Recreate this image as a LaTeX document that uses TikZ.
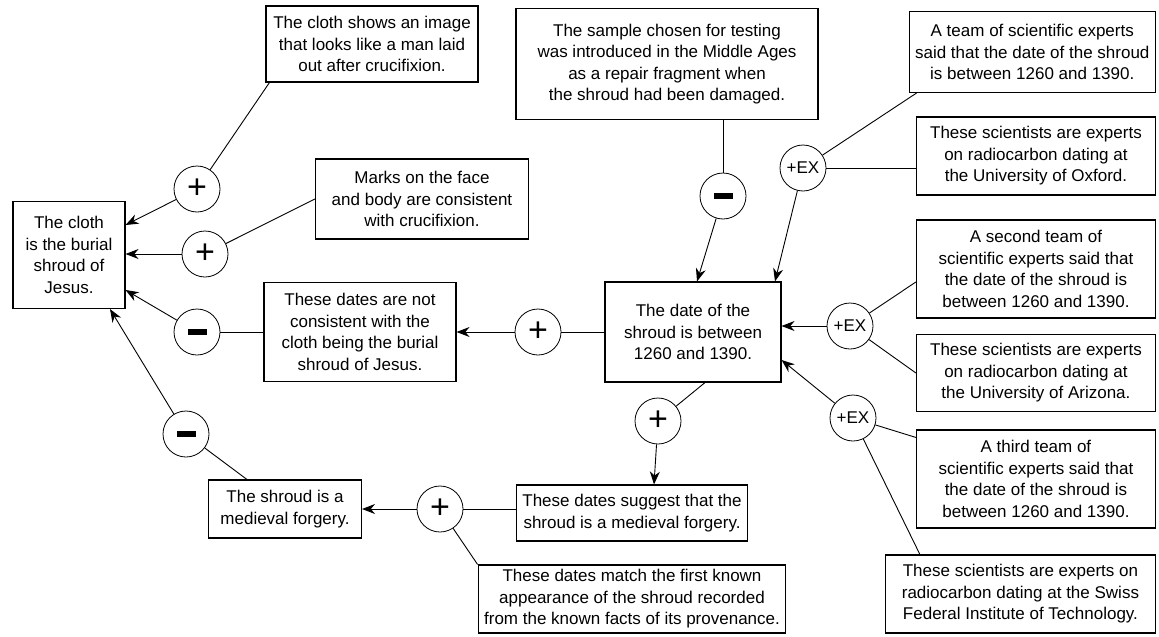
\documentclass[tikz,border=0pt]{standalone}
\usepackage{fontspec}
\setmainfont{Liberation Sans}
\usetikzlibrary{arrows.meta}

\begin{document}
\begin{tikzpicture}[
  x=1pt, y=-1pt,
  font=\fontsize{17}{21.5}\selectfont,
  line width=0.9pt,
  box/.style={rectangle, draw, line width=1.1pt, align=center,
              inner xsep=6pt, inner ysep=4pt},
  sign/.style={circle, draw, line width=0.8pt, minimum size=46pt, inner sep=0pt},
  plus/.style={sign, font=\fontsize{34}{34}\selectfont},
  arr/.style={-{Stealth[length=13pt, width=10pt]}},
]
\useasboundingbox (0,0) rectangle (1159,637);

% claim on the left
\node[box, minimum width=112pt, minimum height=107pt] (root) at (69,255) {The cloth\\is the burial\\shroud of\\Jesus.};
\node[box, minimum width=212pt, minimum height=76pt] (image) at (372,44) {The cloth shows an image\\that looks like a man laid\\out after crucifixion.};
\node[box, minimum width=213pt, minimum height=80pt] (marks) at (422,199) {Marks on the face\\and body are consistent\\with crucifixion.};
\node[box, minimum width=192pt, minimum height=99pt] (notcons) at (360,332) {These dates are not\\consistent with the\\cloth being the burial\\shroud of Jesus.};
\node[box, minimum width=153pt, minimum height=58pt] (forgery) at (285,509) {The shroud is a\\medieval forgery.};

\node[plus] (p1) at (197,189) {+};
\node[plus] (p2) at (205,254) {+};
\node[sign] (m1) at (197,332) {\rule[-3pt]{19pt}{6pt}};
\node[sign] (m2) at (186,434) {\rule[-3pt]{19pt}{6pt}};

\draw[arr] (p1) -- ([yshift=30pt]root.east);
\draw (p1) -- ([xshift=4pt]image.south west);
\draw[arr] (p2) -- (root.east |- p2);
\draw (p2) -- (marks.west);
\draw[arr] (m1) -- ([yshift=-35pt]root.east);
\draw (m1) -- (notcons.west |- m1);
\draw[arr] (m2) -- ([xshift=41pt]root.south);
\draw (m2) -- ([xshift=39pt]forgery.north west);

% middle column
\node[box, minimum width=302pt, minimum height=111pt] (sample) at (667,64) {The sample chosen for testing\\was introduced in the Middle Ages\\as a repair fragment when\\the shroud had been damaged.};
\node[box, minimum width=176pt, minimum height=100pt] (date) at (693,332) {The date of the\\shroud is between\\1260 and 1390.};
\node[box, minimum width=230pt, minimum height=56pt] (suggest) at (632,513) {These dates suggest that the\\shroud is a medieval forgery.};
\node[box, minimum width=300pt, minimum height=68pt] (match) at (632,599) {These dates match the first known\\appearance of the shroud recorded\\from the known facts of its provenance.};

\node[plus] (p3) at (538,332) {+};
\node[plus] (p4) at (440,509) {+};
\node[plus] (p5) at (658,421) {+};
\node[sign] (m3) at (723,196) {\rule[-3pt]{19pt}{6pt}};

\draw[arr] (p3) -- (notcons.east |- p3);
\draw (p3) -- (date.west |- p3);
\draw[arr] (p4) -- (forgery.east |- p4);
\draw (p4) -- (suggest.west |- p4);
\draw (p4) -- (match.north west);
\draw (p5) -- ([xshift=12pt]date.south);
\draw[arr] (p5) -- ([xshift=22pt]suggest.north);
\draw (m3) -- (sample.south -| m3);
\draw[arr] (m3) -- ([xshift=4pt]date.north);

% experts on the right
\node[box, anchor=east, minimum height=81pt] (team1) at (1156,52) {A team of scientific experts\\said that the date of the shroud\\is between 1260 and 1390.};
\node[box, anchor=east, minimum width=239pt, minimum height=78pt] (oxford) at (1156,156) {These scientists are experts\\on radiocarbon dating at\\the University of Oxford.};
\node[box, anchor=east, minimum width=239pt, minimum height=98pt] (team2) at (1156,269) {A second team of\\scientific experts said that\\the date of the shroud is\\between 1260 and 1390.};
\node[box, anchor=east, minimum width=239pt, minimum height=77pt] (arizona) at (1156,373) {These scientists are experts\\on radiocarbon dating at\\the University of Arizona.};
\node[box, anchor=east, minimum width=239pt, minimum height=98pt] (team3) at (1156,479) {A third team of\\scientific experts said that\\the date of the shroud is\\between 1260 and 1390.};
\node[box, anchor=east, minimum width=270pt, minimum height=78pt] (swiss) at (1156,594) {These scientists are experts on\\radiocarbon dating at the Swiss\\Federal Institute of Technology.};

\node[sign] (ex1) at (803,168) {+EX};
\node[sign] (ex2) at (850,326) {+EX};
\node[sign] (ex3) at (853,418) {+EX};

\draw[arr] (ex1) -- ([xshift=82pt]date.north);
\draw (ex1) -- ([xshift=8pt]team1.south west);
\draw (ex1) -- (oxford.west |- ex1);
\draw[arr] (ex2) -- (date.east |- ex2);
\draw (ex2) -- ([yshift=-13pt]team2.west);
\draw (ex2) -- (arizona.west);
\draw[arr] (ex3) -- ([yshift=-28pt]date.east);
\draw (ex3) -- ([yshift=-8pt]team3.north west);
\draw (ex3) -- ([xshift=35pt]swiss.north west);

\end{tikzpicture}
\end{document}
